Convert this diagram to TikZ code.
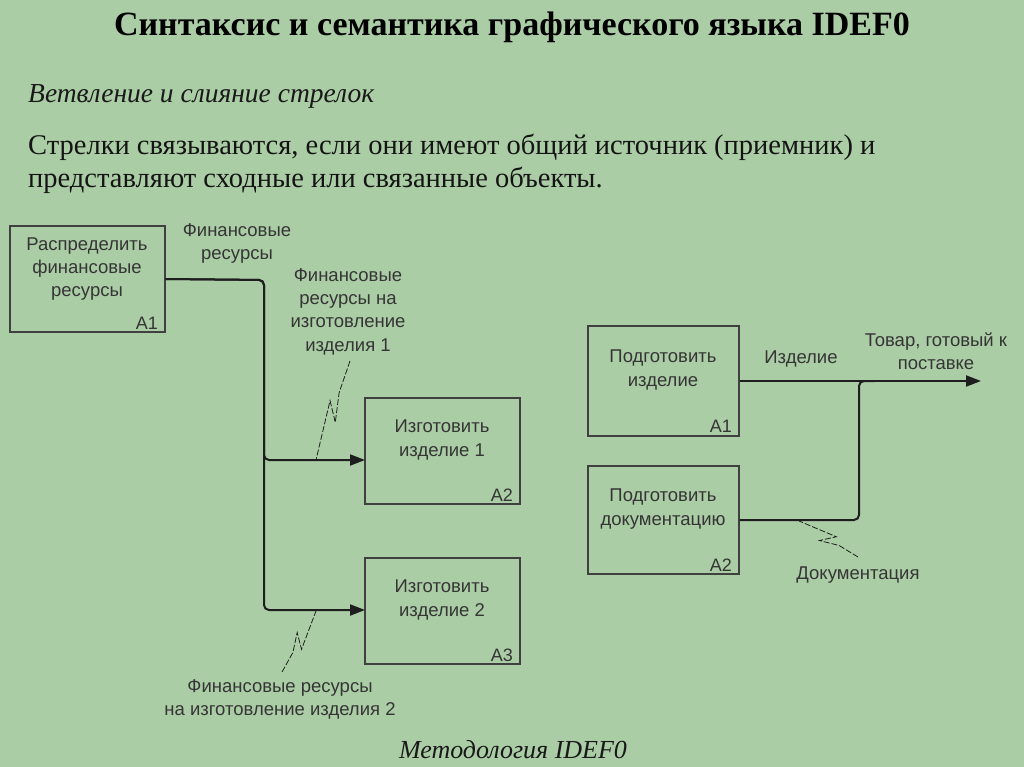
\documentclass[tikz,border=0pt]{standalone}
\usepackage{fontspec}
\setmainfont{Liberation Serif}
\newfontfamily\arialf{Liberation Sans}
\usetikzlibrary{arrows.meta,calc}
\definecolor{bg}{RGB}{171,205,165}
\definecolor{ink}{RGB}{30,30,30}
\tikzset{
  box/.style={draw=ink!85,line width=1.3pt,minimum width=155pt,minimum height=106pt,inner sep=0pt},
  dtext/.style={font=\arialf\fontsize{18.5}{23.3}\selectfont,text=ink!90,align=center,inner sep=0pt},
  tag/.style={font=\arialf\fontsize{18}{20}\selectfont,text=ink!90,inner sep=0pt,anchor=south east},
  flow/.style={draw=ink,line width=2pt,rounded corners=5pt},
  tip/.style={-{Triangle[length=15pt,width=11pt]}},
  squig/.style={draw=ink,line width=0.8pt,dash pattern=on 6pt off 2pt}
}
\begin{document}
\begin{tikzpicture}[x=1pt,y=-1pt]
\fill[bg] (0,0) rectangle (1024,767);
\useasboundingbox (0,0) rectangle (1024,767);
% titles
\node[font=\bfseries\fontsize{34}{40}\selectfont,anchor=base,inner sep=0pt] (title) at (512,36) {Синтаксис и семантика графического языка IDEF0};
\node[font=\itshape\fontsize{27.5}{32}\selectfont,anchor=base west,inner sep=0pt,text=black!90] (sub) at (28,103) {Ветвление и слияние стрелок};
\node[font=\fontsize{28.5}{33}\selectfont,anchor=base west,inner sep=0pt,text=black!92] (body1) at (28,155) {Стрелки связываются, если они имеют общий источник (приемник) и};
\node[font=\fontsize{28.5}{33}\selectfont,anchor=base west,inner sep=0pt,text=black!92] (body2) at (28,188) {представляют сходные или связанные объекты.};
\node[font=\itshape\fontsize{26}{30}\selectfont,anchor=base,inner sep=0pt,text=black!90] (foot) at (513,758) {Методология IDEF0};
% left boxes
\node[box] (la) at (87.5,279) {};
\node[dtext] at (87,269) {Распределить\\финансовые\\ресурсы};
\node[tag] at (158,330) {А1};
\node[box] (a2) at (442.5,451) {};
\node[dtext] at (442,440) {Изготовить\\изделие 1};
\node[tag] at (513,502) {А2};
\node[box] (a3) at (442.5,611) {};
\node[dtext] at (442,600) {Изготовить\\изделие 2};
\node[tag] at (513,662) {А3};
% right boxes
\node[box,minimum width=151pt,minimum height=110pt] (ra1) at (663.5,381) {};
\node[dtext] at (663,370) {Подготовить\\изделие};
\node[tag] at (732,433) {А1};
\node[box,minimum width=151pt,minimum height=108pt] (ra2) at (663.5,520) {};
\node[dtext] at (663,509) {Подготовить\\документацию};
\node[tag] at (732,572) {А2};
% coordinates
\coordinate (j1) at (264,280);
\coordinate (in2) at (365,460);
\coordinate (in3) at (365,610);
\coordinate (out) at (981,381);
\coordinate (m1) at (859,381);
% left arrows
\draw[flow,tip] (la.east) -- (j1) -- (j1 |- in2) -- (in2);
\draw[flow,tip] (la.east) -- (j1) -- (j1 |- in3) -- (in3);
% right arrows
\draw[flow,tip,rounded corners=0pt] (ra1.east) -- (out);
\draw[flow] (ra2.east) -- (ra2.east -| m1) -- (m1) -- ++(15,0);
% labels
\node[dtext] (l1) at (237,243.5) {Финансовые\\ресурсы};
\node[dtext] (l2) at (348,311.5) {Финансовые\\ресурсы на\\изготовление\\изделия 1};
\node[dtext] (l3) at (280,699.5) {Финансовые ресурсы\\на изготовление изделия 2};
\node[dtext] (l4) at (801,359) {Изделие};
\node[dtext] (l5) at (936,351) {Товар, готовый к\\поставке};
\node[dtext] (l6) at (858,575) {Документация};
% squiggles
\coordinate (s1a) at (350,361);
\coordinate (s1b) at (316,460);
\coordinate (s2a) at (282,672);
\coordinate (s2b) at (316,611);
\coordinate (s3a) at (858,557);
\coordinate (s3b) at (799,521);
\foreach \a/\b in {s1a/s1b,s2a/s2b,s3a/s3b}{
  \draw[squig] (\a) -- ($(\a)!0.32!(\b)$) -- ($(\a)!0.60!(\b)!6pt!90:(\b)$) -- ($(\a)!0.42!(\b)!6pt!-90:(\b)$) -- (\b);
}
\end{tikzpicture}
\end{document}
